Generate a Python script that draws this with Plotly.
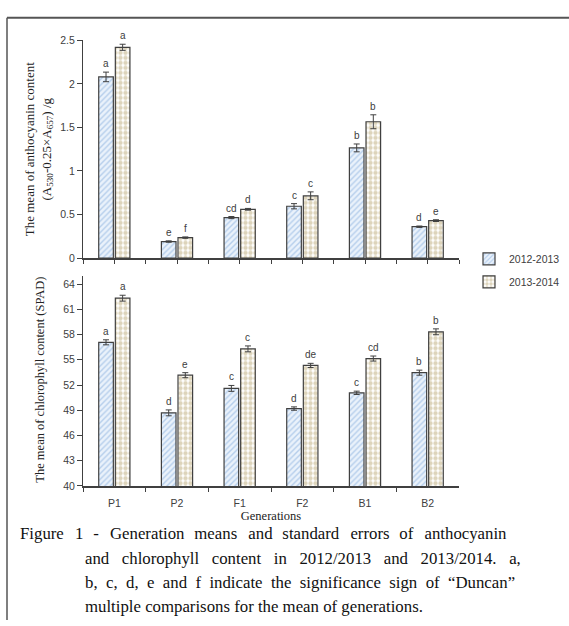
import plotly.graph_objects as go

categories = ["P1", "P2", "F1", "F2", "B1", "B2"]
series_names = ["2012-2013", "2013-2014"]

anth_2012 = [2.08, 0.19, 0.465, 0.595, 1.265, 0.36]
anth_2012_err = [0.055, 0.008, 0.012, 0.03, 0.045, 0.008]
anth_2013 = [2.42, 0.235, 0.56, 0.715, 1.565, 0.43]
anth_2013_err = [0.035, 0.008, 0.01, 0.045, 0.08, 0.01]
anth_2012_sig = ["a", "e", "cd", "c", "b", "d"]
anth_2013_sig = ["a", "f", "d", "c", "b", "e"]

chl_2012 = [57.08, 48.69, 51.6, 49.2, 51.07, 53.47]
chl_2012_err = [0.3, 0.35, 0.35, 0.2, 0.2, 0.3]
chl_2013 = [62.33, 53.17, 56.3, 54.33, 55.15, 58.33]
chl_2013_err = [0.35, 0.3, 0.35, 0.25, 0.3, 0.35]
chl_2012_sig = ["a", "d", "c", "d", "c", "b"]
chl_2013_sig = ["a", "e", "c", "de", "cd", "b"]

anth_ticks = [0, 0.5, 1, 1.5, 2, 2.5]
chl_ticks = [40, 43, 46, 49, 52, 55, 58, 61, 64]

caption_lines = [
    "Figure 1 - Generation means and standard errors of anthocyanin",
    "and chlorophyll content in 2012/2013 and 2013/2014. a,",
    "b, c, d, e and f indicate the significance sign of \u201cDuncan\u201d",
    "multiple comparisons for the mean of generations.",
]

W, H = 569, 626
SANS = "Liberation Sans"
SERIF = "Liberation Serif"
AX = "#404040"

def px_x(v):
    return v / W

def px_y(v):
    return 1 - v / H

blue_marker = dict(color="white",
                   line=dict(color=AX, width=1.2),
                   pattern=dict(shape="/", fgcolor="#7fa9dc", bgcolor="#eaf2fb",
                                size=4, solidity=0.35))
tan_marker = dict(color="white",
                  line=dict(color=AX, width=1.2),
                  pattern=dict(shape=".", fgcolor="#bcaa78", bgcolor="#ffffff",
                               size=5, solidity=0.6))

err_style = dict(type="data", color=AX, thickness=1, width=3)

idx = list(range(len(categories)))
fig = go.Figure()
fig.add_trace(go.Bar(x=idx, y=anth_2012, name=series_names[0], marker=blue_marker,
                     error_y=dict(array=anth_2012_err, **err_style),
                     xaxis="x", yaxis="y", offsetgroup="a", legendgroup="g1"))
fig.add_trace(go.Bar(x=idx, y=anth_2013, name=series_names[1], marker=tan_marker,
                     error_y=dict(array=anth_2013_err, **err_style),
                     xaxis="x", yaxis="y", offsetgroup="b", legendgroup="g2"))
fig.add_trace(go.Bar(x=categories, y=chl_2012, name=series_names[0], marker=blue_marker,
                     error_y=dict(array=chl_2012_err, **err_style),
                     xaxis="x2", yaxis="y2", offsetgroup="a", showlegend=False))
fig.add_trace(go.Bar(x=categories, y=chl_2013, name=series_names[1], marker=tan_marker,
                     error_y=dict(array=chl_2013_err, **err_style),
                     xaxis="x2", yaxis="y2", offsetgroup="b", showlegend=False))

bargap, groupgap = 0.47, 0.12
slot = (1 - bargap) / 2
annotations = []
def add_sig(vals, errs, sigs, side, xref, yref):
    for i, (v, e, s) in enumerate(zip(vals, errs, sigs)):
        annotations.append(dict(x=i + side * slot / 2, y=v + e, xref=xref, yref=yref,
                                text=s, showarrow=False, yanchor="bottom", yshift=1,
                                font=dict(family=SANS, size=10, color=AX)))
add_sig(anth_2012, anth_2012_err, anth_2012_sig, -1, "x", "y")
add_sig(anth_2013, anth_2013_err, anth_2013_sig, 1, "x", "y")
add_sig(chl_2012, chl_2012_err, chl_2012_sig, -1, "x2", "y2")
add_sig(chl_2013, chl_2013_err, chl_2013_sig, 1, "x2", "y2")

# y-axis titles
annotations.append(dict(x=px_x(39), y=px_y(146), xref="paper", yref="paper",
                        text="The mean of anthocyanin content<br>(A<sub>530</sub>-0.25\u00d7A<sub>657</sub>) /g",
                        textangle=-90, showarrow=False, xanchor="center", yanchor="middle",
                        font=dict(family=SERIF, size=13, color="#222")))
annotations.append(dict(x=px_x(40), y=px_y(381), xref="paper", yref="paper",
                        text="The mean of chlorophyll content (SPAD)",
                        textangle=-90, showarrow=False, xanchor="center", yanchor="middle",
                        font=dict(family=SERIF, size=12.5, color="#222")))

# caption, justified by widening the inter-word gaps
def justify(text, gaps):
    words = text.split(" ")
    out = words[0]
    for i, w in enumerate(words[1:]):
        out += gaps[i % len(gaps)] + w
    return out

gap_sets = [
    ["\u2002\u2006", "\u2002\u200a"],
    ["\u2002\u2006\u200a"],
    ["\u2002"],
    [" "],
]
cap_pos = [(18, 538), (83, 563), (83, 588), (83, 612)]
for t, g, (x0, y0) in zip(caption_lines, gap_sets, cap_pos):
    annotations.append(dict(x=px_x(x0), y=px_y(y0), xref="paper", yref="paper",
                            text=justify(t, g),
                            showarrow=False, xanchor="left", yanchor="middle",
                            font=dict(family=SERIF, size=16.8, color="#111")))

xdom = [px_x(83), px_x(459)]
tickfont = dict(family=SANS, size=10.5, color=AX)
fig.update_layout(
    width=W, height=H, margin=dict(l=0, r=0, t=0, b=0),
    paper_bgcolor="white", plot_bgcolor="white",
    barmode="group", bargap=bargap, bargroupgap=groupgap,
    xaxis=dict(domain=xdom, anchor="y", range=[-0.5, 5.5],
               tickvals=[i * 0.5 - 0.5 for i in range(13)], ticktext=[""] * 13,
               ticks="outside", ticklen=4, tickcolor=AX, showline=True,
               linecolor=AX, linewidth=1.5, showgrid=False, zeroline=False),
    yaxis=dict(domain=[px_y(257), px_y(35)], anchor="x", range=[0, 2.5],
               tickvals=anth_ticks, ticks="outside", ticklen=5, tickcolor=AX,
               showline=True, linecolor=AX, linewidth=1, showgrid=False,
               zeroline=False, tickfont=tickfont),
    xaxis2=dict(domain=xdom, anchor="y2", type="category", categoryorder="array",
                categoryarray=categories, tickson="boundaries",
                ticks="outside", ticklen=4, tickcolor=AX, showline=True,
                linecolor=AX, linewidth=1.8, showgrid=False, tickfont=tickfont,
                ticklabelstandoff=7,
                title=dict(text="Generations", standoff=3,
                           font=dict(family=SERIF, size=12.5, color="#222"))),
    yaxis2=dict(domain=[px_y(489.3), px_y(275)], anchor="x2", range=[40, 65],
                tickvals=chl_ticks, ticks="outside", ticklen=5, tickcolor=AX,
                showline=True, linecolor=AX, linewidth=1, showgrid=False,
                zeroline=False, tickfont=tickfont),
    legend=dict(x=px_x(469), y=px_y(243), xanchor="left", yanchor="top",
                font=dict(family=SANS, size=10.5, color=AX),
                tracegroupgap=4, traceorder="grouped", bgcolor="rgba(0,0,0,0)",
                itemwidth=30),
    annotations=annotations,
    shapes=[
        dict(type="line", xref="paper", yref="paper", x0=px_x(7), x1=1,
             y0=px_y(12), y1=px_y(12), line=dict(color="#555", width=2)),
        dict(type="line", xref="paper", yref="paper", x0=px_x(7), x1=px_x(7),
             y0=px_y(12), y1=0, line=dict(color="#555", width=1.5)),
    ],
)

fig.write_html("out.html", config={"displayModeBar": False},
               post_script="document.body.style.margin='0';document.body.style.overflow='hidden';")
